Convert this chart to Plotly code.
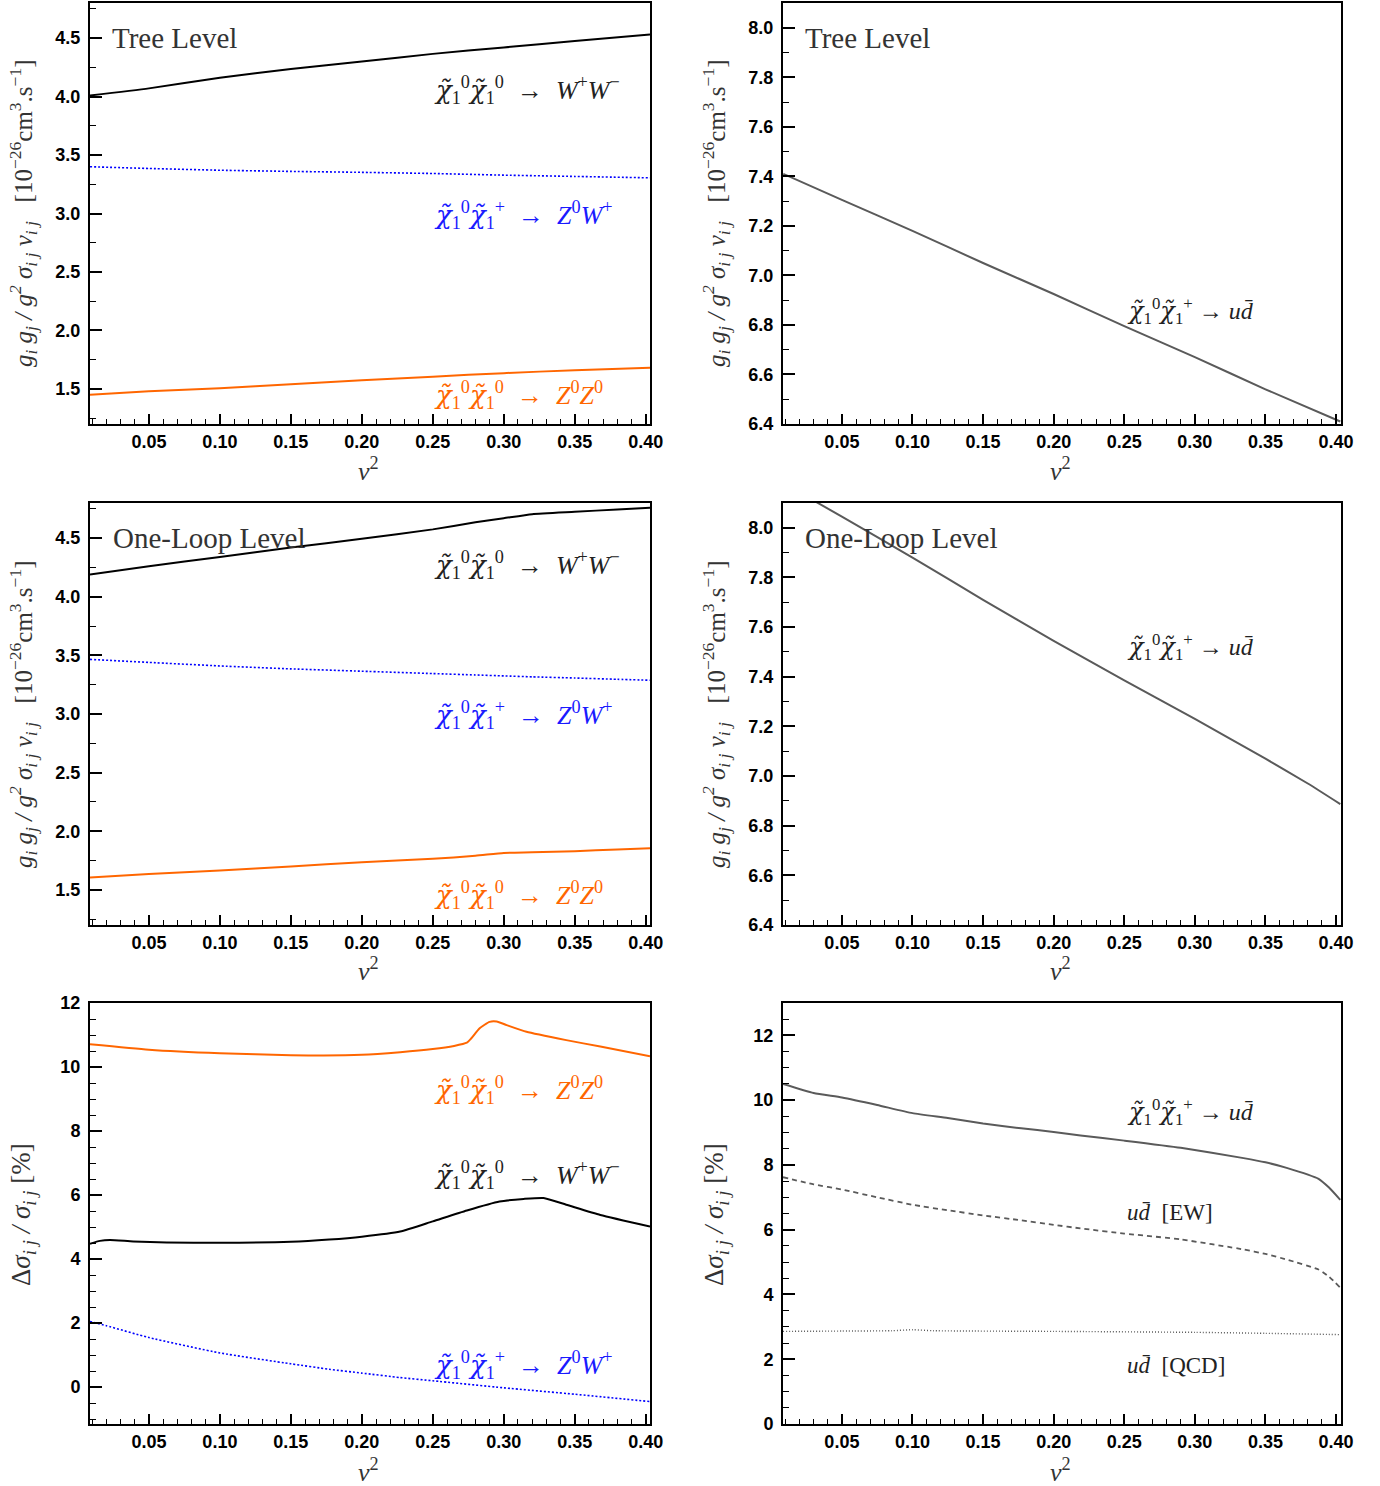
import plotly.graph_objects as go

# ---------------- data ----------------
v2 = [0.0085, 0.05, 0.10, 0.15, 0.20, 0.25, 0.30, 0.35, 0.403]
tree_ww = [4.01, 4.07, 4.16, 4.235, 4.30, 4.365, 4.42, 4.475, 4.53]
tree_zw = [3.40, 3.385, 3.37, 3.36, 3.352, 3.342, 3.328, 3.317, 3.305]
tree_zz = [1.45, 1.48, 1.506, 1.54, 1.575, 1.605, 1.635, 1.66, 1.68]
tree_ud = [7.41, 7.305, 7.18, 7.05, 6.925, 6.795, 6.67, 6.54, 6.41]

v2_loop = [0.0085, 0.05, 0.10, 0.15, 0.20, 0.25, 0.28, 0.30, 0.32, 0.35, 0.38, 0.403]
loop_ww = [4.19, 4.26, 4.34, 4.42, 4.495, 4.575, 4.635, 4.67, 4.705, 4.725, 4.745, 4.76]
loop_zw = [3.466, 3.44, 3.41, 3.385, 3.365, 3.345, 3.333, 3.325, 3.317, 3.307, 3.296, 3.288]
loop_zz = [1.605, 1.635, 1.665, 1.70, 1.735, 1.765, 1.79, 1.815, 1.82, 1.83, 1.845, 1.855]

v2_loop_ud = [0.0085, 0.05, 0.10, 0.15, 0.20, 0.25, 0.30, 0.35, 0.38, 0.403]
loop_ud = [8.18, 8.045, 7.88, 7.71, 7.545, 7.385, 7.23, 7.07, 6.97, 6.887]

v2_rzz = [0.0085, 0.05, 0.10, 0.15, 0.20, 0.227, 0.25, 0.265, 0.274, 0.277, 0.283,
          0.290, 0.295, 0.302, 0.316, 0.344, 0.368, 0.403]
ratio_zz = [10.71, 10.54, 10.43, 10.37, 10.38, 10.46, 10.56, 10.66, 10.76, 10.89, 11.21,
            11.41, 11.42, 11.31, 11.10, 10.84, 10.64, 10.34]

v2_rww = [0.0085, 0.0155, 0.0226, 0.039, 0.0625, 0.10, 0.15, 0.177, 0.20, 0.227, 0.25,
          0.274, 0.297, 0.314, 0.328, 0.344, 0.368, 0.403]
ratio_ww = [4.48, 4.57, 4.60, 4.55, 4.52, 4.51, 4.54, 4.61, 4.70, 4.86, 5.18,
            5.52, 5.80, 5.88, 5.91, 5.70, 5.38, 5.02]

v2_rzw = [0.0085, 0.02, 0.05, 0.10, 0.15, 0.177, 0.20, 0.227, 0.25, 0.30, 0.35, 0.403]
ratio_zw = [2.05, 1.92, 1.55, 1.07, 0.73, 0.56, 0.44, 0.30, 0.20, -0.02, -0.22, -0.45]

v2_rud = [0.0083, 0.03, 0.05, 0.075, 0.10, 0.125, 0.15, 0.177, 0.20, 0.219, 0.25, 0.29,
          0.3345, 0.35, 0.365, 0.3876, 0.395, 0.403]
ratio_ud_tot = [10.50, 10.22, 10.08, 9.85, 9.60, 9.45, 9.28, 9.13, 9.02, 8.91, 8.75, 8.53,
                8.21, 8.08, 7.91, 7.57, 7.30, 6.92]
ratio_ud_ew = [7.62, 7.40, 7.24, 7.00, 6.77, 6.60, 6.44, 6.29, 6.15, 6.04, 5.88, 5.70,
               5.39, 5.25, 5.08, 4.77, 4.55, 4.21]
v2_rqcd = [0.0083, 0.05, 0.085, 0.10, 0.115, 0.20, 0.30, 0.35, 0.403]
ratio_ud_qcd = [2.86, 2.87, 2.88, 2.91, 2.88, 2.86, 2.83, 2.80, 2.76]

# ---------------- styling ----------------
W, H = 1380, 1486
BLACK, BLUE, ORANGE, GRAY = "#000000", "#0000ff", "#ff6600", "#5a5a5a"
SERIF = "Liberation Serif"
SANS = "Liberation Sans"

def px(x):
    return x / W

def py(y):
    return 1 - y / H

col_dom = [[px(90), px(650)], [px(783), px(1341)]]
row_dom = [[py(424), py(3)], [py(925), py(503)], [py(1424), py(1003)]]

panels = [
    # (row, col, y range, y dtick, y minor, tickformat)
    (0, 0, [1.2, 4.8], 0.5, 0.25, ".1f"),
    (0, 1, [6.4, 8.1], 0.2, 0.1, ".1f"),
    (1, 0, [1.2, 4.8], 0.5, 0.25, ".1f"),
    (1, 1, [6.4, 8.1], 0.2, 0.1, ".1f"),
    (2, 0, [-1.15, 12.0], 2, 0.5, "d"),
    (2, 1, [0, 13.0], 2, 0.5, "d"),
]

fig = go.Figure()

def add_line(n, x, y, color, dash="solid", width=2.0):
    fig.add_trace(go.Scatter(
        x=x, y=y, mode="lines", xaxis=f"x{n}", yaxis=f"y{n}",
        line=dict(color=color, width=width, dash=dash, shape="spline", smoothing=0.5),
        showlegend=False, hoverinfo="skip"))

add_line(1, v2, tree_ww, BLACK)
add_line(1, v2, tree_zw, BLUE, dash="2px,2px", width=1.6)
add_line(1, v2, tree_zz, ORANGE)
add_line(2, v2, tree_ud, GRAY)
add_line(3, v2_loop, loop_ww, BLACK)
add_line(3, v2_loop, loop_zw, BLUE, dash="2px,2px", width=1.6)
add_line(3, v2_loop, loop_zz, ORANGE)
add_line(4, v2_loop_ud, loop_ud, GRAY)
add_line(5, v2_rzz, ratio_zz, ORANGE)
add_line(5, v2_rww, ratio_ww, BLACK)
add_line(5, v2_rzw, ratio_zw, BLUE, dash="2px,2px", width=1.6)
add_line(6, v2_rud, ratio_ud_tot, GRAY)
add_line(6, v2_rud, ratio_ud_ew, GRAY, dash="5px,4px", width=1.8)
add_line(6, v2_rqcd, ratio_ud_qcd, GRAY, dash="1px,2px", width=1.4)

tickfont = dict(family=SANS, size=18, color="black", weight="bold")
layout = dict(width=W, height=H, margin=dict(l=0, r=0, t=0, b=0, autoexpand=False),
              paper_bgcolor="white", plot_bgcolor="white", showlegend=False)

for i, (r, c, yr, dt, mdt, fmt) in enumerate(panels):
    n = i + 1
    sx = "" if n == 1 else str(n)
    xr = [0.0085, 0.403] if c == 0 else [0.0083, 0.4035]
    layout[f"xaxis{sx}"] = dict(
        domain=col_dom[c], range=xr, anchor=f"y{n}", automargin=False,
        showline=True, linewidth=2, linecolor="black", mirror=True,
        ticks="inside", ticklen=10, tickwidth=1.5, tickcolor="black",
        tick0=0, dtick=0.05, tickformat=".2f", tickfont=tickfont,
        minor=dict(ticks="inside", ticklen=5, tickwidth=1, tickcolor="black",
                   tick0=0, dtick=0.01),
        showgrid=False, zeroline=False, fixedrange=True)
    layout[f"yaxis{sx}"] = dict(
        domain=row_dom[r], range=yr, anchor=f"x{n}", automargin=False,
        showline=True, linewidth=2, linecolor="black", mirror=True,
        ticks="inside", ticklen=12, tickwidth=1.5, tickcolor="black",
        tick0=0, dtick=dt, tickformat=fmt, tickfont=tickfont,
        ticklabelstandoff=4,
        minor=dict(ticks="inside", ticklen=6, tickwidth=1, tickcolor="black",
                   tick0=0, dtick=mdt),
        showgrid=False, zeroline=False, fixedrange=True)

fig.update_layout(**layout)

# ---------------- text ----------------
chi = "<span style=\"font-family:DejaVu Serif\"><i>χ\u0303</i></span>"
arrow = "  →  "
lab_ww = (f"{chi}<sub>1</sub><sup>0</sup>{chi}<sub>1</sub><sup>0</sup>{arrow}"
          "<i>W</i><sup>+</sup><i>W</i><sup>−</sup>")
lab_zw = (f"{chi}<sub>1</sub><sup>0</sup>{chi}<sub>1</sub><sup>+</sup>{arrow}"
          "<i>Z</i><sup>0</sup><i>W</i><sup>+</sup>")
lab_zz = (f"{chi}<sub>1</sub><sup>0</sup>{chi}<sub>1</sub><sup>0</sup>{arrow}"
          "<i>Z</i><sup>0</sup><i>Z</i><sup>0</sup>")
lab_ud = f"{chi}<sub>1</sub><sup>0</sup>{chi}<sub>1</sub><sup>+</sup> → <i>ud\u0304</i>"
lab_ew = "<i>ud\u0304</i>  [EW]"
lab_qcd = "<i>ud\u0304</i>  [QCD]"
ytitle_xs = ("<i>g<sub>i</sub> g<sub>j</sub> / g<sup>2</sup> σ<sub>i j</sub> v<sub>i j</sub></i>"
             "   [10<sup>−26</sup>cm<sup>3</sup>.s<sup>−1</sup>]")
ytitle_ratio = "Δ<i>σ<sub>i j</sub> / σ<sub>i j</sub></i> [%]"
xtitle = "<i>v</i><sup>2</sup>"

def note(text, x, y, size=26, color="#222222", xanchor="left", angle=0):
    fig.add_annotation(text=text, x=px(x), y=py(y), xref="paper", yref="paper",
                       xanchor=xanchor, yanchor="middle", showarrow=False,
                       textangle=angle, font=dict(family=SERIF, size=size, color=color))

# level titles
note("Tree Level", 110, 38, size=29, color="#333333")
note("Tree Level", 803, 38, size=29, color="#333333")
note("One-Loop Level", 111, 538, size=29, color="#333333")
note("One-Loop Level", 803, 538, size=29, color="#333333")

# process labels, left column
note(lab_ww, 432, 90)
note(lab_zw, 432, 215, color="#1a1aff")
note(lab_zz, 432, 395, color=ORANGE)
note(lab_ww, 432, 565)
note(lab_zw, 432, 715, color="#1a1aff")
note(lab_zz, 432, 895, color=ORANGE)
note(lab_zz, 432, 1090, color=ORANGE)
note(lab_ww, 432, 1175)
note(lab_zw, 432, 1365, color="#1a1aff")

# process labels, right column
note(lab_ud, 1125, 311, size=24)
note(lab_ud, 1125, 647, size=24)
note(lab_ud, 1125, 1112, size=24)
note(lab_ew, 1125, 1212, size=23)
note(lab_qcd, 1125, 1365, size=23)

# axis titles
for cx in (368, 1060):
    for yy in (470, 970, 1470):
        note(xtitle, cx, yy, size=26, color="#333333", xanchor="center")
for tx in (23, 716):
    note(ytitle_xs, tx, 213, size=25, color="#333333", xanchor="center", angle=-90)
    note(ytitle_xs, tx, 714, size=25, color="#333333", xanchor="center", angle=-90)
    note(ytitle_ratio, tx, 1215, size=27, color="#333333", xanchor="center", angle=-90)

fig.write_html("out.html", config={"displayModeBar": False},
               post_script="document.body.style.margin='0';document.body.style.overflow='hidden';")
